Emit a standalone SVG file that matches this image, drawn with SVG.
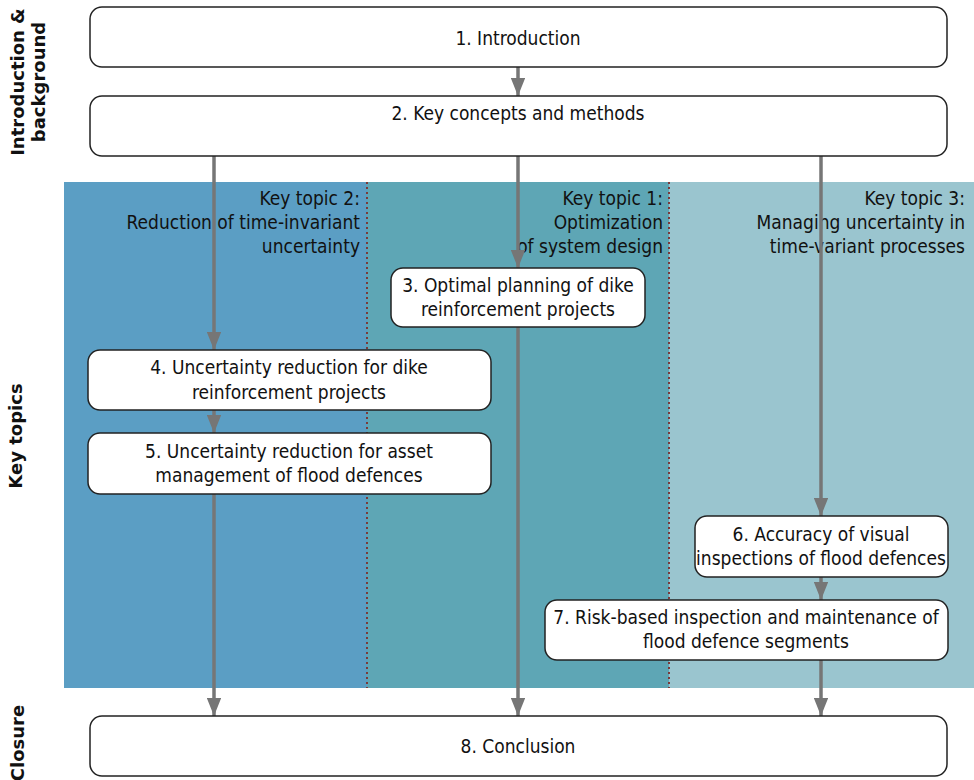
<svg xmlns="http://www.w3.org/2000/svg" width="974" height="780" viewBox="0 0 974 780">
  <style>
    .box { fill: #ffffff; stroke: #222222; stroke-width: 1.5; }
    .t { font-family: "DejaVu Sans Condensed", "DejaVu Sans", sans-serif; font-size: 19px; fill: #111111; }
    .c { text-anchor: middle; }
    .r { text-anchor: end; }
    .side { font-family: "DejaVu Sans", sans-serif; font-size: 18px; font-weight: bold; fill: #111111; text-anchor: middle; }
    .conn { stroke: #767676; stroke-width: 3.5; fill: none; marker-end: url(#arrow); }
    .sep { stroke: #7a3a3a; stroke-width: 2; stroke-dasharray: 2 3; }
  </style>
  <defs>
    <marker id="arrow" viewBox="0 0 10 8" refX="10" refY="4" markerWidth="5.2" markerHeight="4.2" markerUnits="strokeWidth" orient="auto">
      <path d="M0,0 L10,4 L0,8 Z" fill="#767676"/>
    </marker>
  </defs>

  <!-- key topic bands -->
  <g id="bands">
    <rect x="64" y="182" width="303" height="506" fill="#5b9ec4"/>
    <rect x="367" y="182" width="302" height="506" fill="#5ea6b5"/>
    <rect x="669" y="182" width="305" height="506" fill="#9ac5cf"/>
    <line class="sep" x1="367" y1="182" x2="367" y2="688"/>
    <line class="sep" x1="669" y1="182" x2="669" y2="688"/>
    <text class="t r" x="360" y="205">Key topic 2:</text>
    <text class="t r" x="360" y="229">Reduction of time-invariant</text>
    <text class="t r" x="360" y="253">uncertainty</text>
    <text class="t r" x="663" y="205">Key topic 1:</text>
    <text class="t r" x="663" y="229">Optimization</text>
    <text class="t r" x="663" y="253">of system design</text>
    <text class="t r" x="965" y="205">Key topic 3:</text>
    <text class="t r" x="965" y="229">Managing uncertainty in</text>
    <text class="t r" x="965" y="253">time-variant processes</text>
  </g>

  <!-- section labels -->
  <g id="section-labels">
    <text class="side" transform="translate(24,82) rotate(-90)">Introduction &amp;</text>
    <text class="side" transform="translate(45,82) rotate(-90)">background</text>
    <text class="side" transform="translate(22,436) rotate(-90)">Key topics</text>
    <text class="side" transform="translate(24,743) rotate(-90)">Closure</text>
  </g>

  <!-- connectors -->
  <g id="connectors">
    <line class="conn" x1="518" y1="67" x2="518" y2="96"/>
    <line class="conn" x1="214" y1="156" x2="214" y2="350"/>
    <line class="conn" x1="518" y1="156" x2="518" y2="268"/>
    <line class="conn" x1="821" y1="156" x2="821" y2="516"/>
    <line class="conn" x1="214" y1="410" x2="214" y2="433"/>
    <line class="conn" x1="214" y1="494" x2="214" y2="716"/>
    <line class="conn" x1="518" y1="327" x2="518" y2="716"/>
    <line class="conn" x1="821" y1="577" x2="821" y2="600"/>
    <line class="conn" x1="821" y1="660" x2="821" y2="716"/>
  </g>

  <g id="n1">
    <rect class="box" x="90" y="7" width="857" height="60" rx="12"/>
    <text class="t c" x="518" y="45">1. Introduction</text>
  </g>
  <g id="n2">
    <rect class="box" x="90" y="96" width="857" height="60" rx="12"/>
    <text class="t c" x="518" y="120">2. Key concepts and methods</text>
  </g>
  <g id="n3">
    <rect class="box" x="391" y="268" width="254" height="59" rx="12"/>
    <text class="t c" x="518" y="292">3. Optimal planning of dike</text>
    <text class="t c" x="518" y="316">reinforcement projects</text>
  </g>
  <g id="n4">
    <rect class="box" x="88" y="350" width="403" height="60" rx="12"/>
    <text class="t c" x="289" y="374">4. Uncertainty reduction for dike</text>
    <text class="t c" x="289" y="399">reinforcement projects</text>
  </g>
  <g id="n5">
    <rect class="box" x="88" y="433" width="403" height="61" rx="12"/>
    <text class="t c" x="289" y="458">5. Uncertainty reduction for asset</text>
    <text class="t c" x="289" y="482">management of flood defences</text>
  </g>
  <g id="n6">
    <rect class="box" x="695" y="516" width="253" height="61" rx="12"/>
    <text class="t c" x="821" y="541">6. Accuracy of visual</text>
    <text class="t c" x="821" y="565">inspections of flood defences</text>
  </g>
  <g id="n7">
    <rect class="box" x="545" y="600" width="403" height="60" rx="12"/>
    <text class="t c" x="746" y="624">7. Risk-based inspection and maintenance of</text>
    <text class="t c" x="746" y="648">flood defence segments</text>
  </g>
  <g id="n8">
    <rect class="box" x="90" y="716" width="857" height="60" rx="12"/>
    <text class="t c" x="518" y="753">8. Conclusion</text>
  </g>
</svg>
